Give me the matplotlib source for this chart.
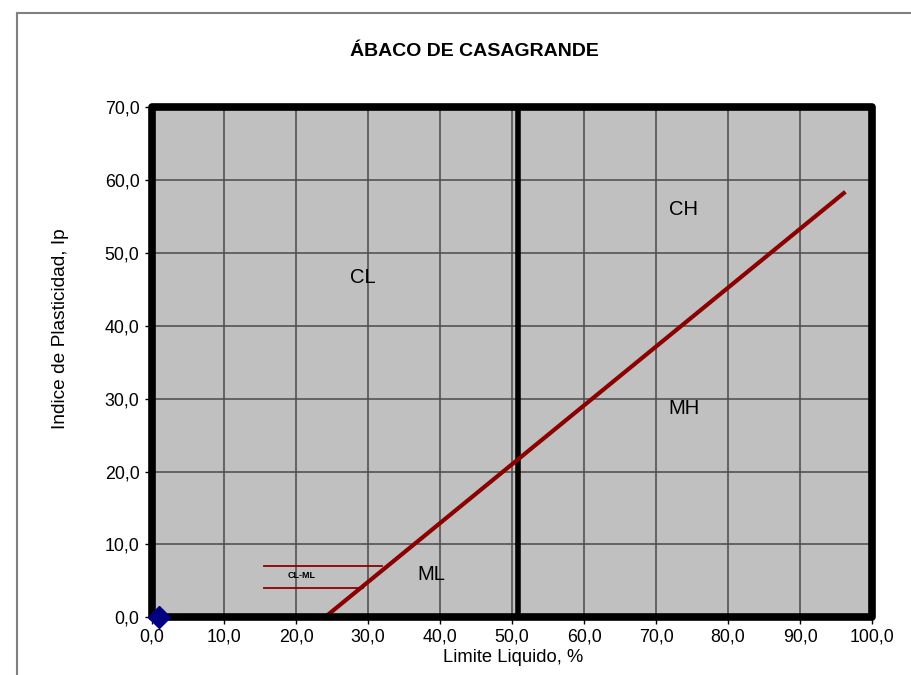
import matplotlib
matplotlib.use("Agg")
import matplotlib.pyplot as plt
import matplotlib.patches as patches
from matplotlib.lines import Line2D
from matplotlib.ticker import FuncFormatter

plt.rcParams['font.family'] = ['Liberation Sans', 'DejaVu Sans']

# Línea A (límite entre arcillas y limos)
linea_a_ll = [24.0, 96.3]
linea_a_ip = [0.0, 58.4]

# Zona CL-ML
clml_sup_ll = [15.6, 31.9]
clml_sup_ip = [7.0, 7.0]
clml_inf_ll = [15.6, 29.3]
clml_inf_ip = [4.0, 4.0]

# Línea B (LL = 50)
linea_b_ll = 50.8

# Muestra ensayada
muestra_ll = [1.0]
muestra_ip = [0.0]

# Etiquetas de zonas
zonas = ["CL", "CH", "MH", "ML"]
zonas_ll = [29.3, 73.8, 73.9, 38.8]
zonas_ip = [46.7, 56.0, 28.6, 5.9]

xticks = [0, 10, 20, 30, 40, 50, 60, 70, 80, 90, 100]
yticks = [0, 10, 20, 30, 40, 50, 60, 70]

fig = plt.figure(figsize=(9.11, 6.75), dpi=100)
ax = fig.add_axes([152/911, 1 - 617.3/675, 720/911, 510/675])

ax.set_facecolor('#c0c0c0')
ax.set_xlim(0, 100)
ax.set_ylim(0, 70)
ax.set_xticks(xticks)
ax.set_yticks(yticks)
fmt = FuncFormatter(lambda v, p: f"{v:.1f}".replace('.', ','))
ax.xaxis.set_major_formatter(fmt)
ax.yaxis.set_major_formatter(fmt)
ax.tick_params(axis='both', labelsize=12.8, length=5, width=1, direction='out',
               colors='black', pad=4)
ax.tick_params(axis='x', pad=3)
ax.grid(True, color='#4a4a4a', linewidth=1.1)
ax.set_axisbelow(True)
for s in ax.spines.values():
    s.set_visible(False)

# marco grueso con esquinas redondeadas
marco = patches.Rectangle((0, 0), 1, 1, transform=ax.transAxes, fill=False,
                          edgecolor='black', linewidth=5.5, joinstyle='round',
                          clip_on=False, zorder=5)
ax.add_patch(marco)

ax.axvline(linea_b_ll, color='black', linewidth=4, zorder=3)
ax.plot(linea_a_ll, linea_a_ip, color='#8b0000', linewidth=3,
        solid_capstyle='butt', zorder=4)
ax.plot(clml_sup_ll, clml_sup_ip, color='#8b0000', linewidth=1.3, zorder=4)
ax.plot(clml_inf_ll, clml_inf_ip, color='#8b0000', linewidth=1.3, zorder=4)
ax.plot(muestra_ll, muestra_ip, linestyle='none', marker='D', markersize=11,
        color='#000080', clip_on=False, zorder=6)

for z, x, y in zip(zonas, zonas_ll, zonas_ip):
    ax.text(x, y, z, fontsize=14.5, ha='center', va='center', zorder=4)
ax.text(20.8, 5.8, "CL-ML", fontsize=6.5, fontweight='bold', ha='center',
        va='center', zorder=4)

fig.text(474/911, 1 - 51/675, "ÁBACO DE CASAGRANDE", fontsize=14,
         fontweight='bold', ha='center', va='center')
fig.text(61/911, 1 - 329/675, "Indice de Plasticidad, Ip", fontsize=13.8,
         rotation=90, ha='center', va='center')
fig.text(513/911, 1 - 657/675, "Limite Liquido, %", fontsize=13.2,
         ha='center', va='center')

# recuadro exterior del gráfico
fig.add_artist(Line2D([17/911, 17/911], [0, 1 - 13/675], transform=fig.transFigure,
                      color='#808080', linewidth=1.5))
fig.add_artist(Line2D([17/911, 1], [1 - 13/675, 1 - 13/675], transform=fig.transFigure,
                      color='#808080', linewidth=1.5))

fig.savefig("out.png", dpi=100)
